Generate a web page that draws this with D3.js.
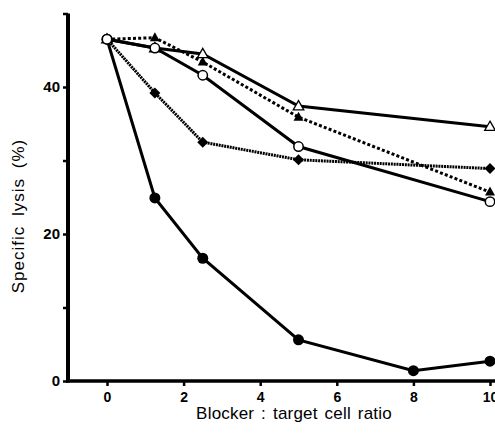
<!doctype html>
<html>
<head>
<meta charset="utf-8">
<script src="https://d3js.org/d3.v7.min.js"></script>
<style>
  body { margin: 0; background: #fff; }
  svg { font-family: "Liberation Sans", Arial, sans-serif; }
</style>
</head>
<body>
<svg width="495" height="435"></svg>
<script>
// values
var ratios = [0, 1.25, 2.5, 5, 10];
var ratiosFilled = [0, 1.25, 2.5, 5, 8, 10];
var openTriangle = [46.5, 45.3, 44.5, 37.4, 34.6];
var filledTriangle = [46.5, 46.7, 43.4, 35.9, 25.7];
var openCircle = [46.5, 45.3, 41.6, 31.9, 24.4];
var filledDiamond = [46.5, 39.2, 32.5, 30.1, 28.9];
var filledCircle = [46.5, 24.9, 16.7, 5.6, 1.4, 2.7];
var xTicks = [0, 2, 4, 6, 8, 10];
var yTicks = [0, 10, 20, 30, 40, 50];
var yLabels = [0, 20, 40];

var svg = d3.select("svg");
var x = d3.scaleLinear().domain([0, 10]).range([107, 490]);
var y = d3.scaleLinear().domain([0, 40]).range([381, 87]);

var series = [
  {xs: ratios, ys: openTriangle, dash: null, width: 3, mark: "triOpen"},
  {xs: ratios, ys: filledTriangle, dash: "3,2.2", width: 3, mark: "tri"},
  {xs: ratios, ys: openCircle, dash: null, width: 3, mark: "circOpen"},
  {xs: ratios, ys: filledDiamond, dash: "2,0.8", width: 3, mark: "diamond"},
  {xs: ratiosFilled, ys: filledCircle, dash: null, width: 3, mark: "circ"}
];

var line = d3.line().x(function(d) { return x(d[0]); }).y(function(d) { return y(d[1]); });

series.forEach(function(s) {
  var pts = s.xs.map(function(v, i) { return [v, s.ys[i]]; });
  svg.append("path")
    .attr("d", line(pts))
    .attr("fill", "none")
    .attr("stroke", "#000")
    .attr("stroke-width", s.width)
    .attr("stroke-dasharray", s.dash);
});

// markers, open ones last so they sit on top
var order = [4, 3, 1, 0, 2];
order.forEach(function(k) {
  var s = series[k];
  var g = svg.append("g");
  s.xs.forEach(function(v, i) {
    var cx = x(v), cy = y(s.ys[i]);
    if (s.mark == "circ") {
      g.append("circle").attr("cx", cx).attr("cy", cy).attr("r", 5.5).attr("fill", "#000");
    } else if (s.mark == "circOpen") {
      g.append("circle").attr("cx", cx).attr("cy", cy).attr("r", 4.7)
        .attr("fill", "#fff").attr("stroke", "#000").attr("stroke-width", 1.5);
    } else if (s.mark == "diamond") {
      g.append("path").attr("d", "M0,-5.5L5.5,0L0,5.5L-5.5,0Z")
        .attr("transform", "translate(" + cx + "," + cy + ")").attr("fill", "#000");
    } else if (s.mark == "tri") {
      g.append("path").attr("d", "M0,-5.5L5,3.5L-5,3.5Z")
        .attr("transform", "translate(" + cx + "," + cy + ")").attr("fill", "#000");
    } else {
      g.append("path").attr("d", "M0,-5.5L5.3,3.7L-5.3,3.7Z")
        .attr("transform", "translate(" + cx + "," + cy + ")")
        .attr("fill", "#fff").attr("stroke", "#000").attr("stroke-width", 1.3);
    }
  });
});

// axes
var yAxis = svg.append("g")
  .attr("transform", "translate(68,0)")
  .call(d3.axisLeft(y).tickValues(yTicks).tickSize(5).tickSizeOuter(0)
    .tickFormat(function(d) { return yLabels.indexOf(d) >= 0 ? d : ""; }));
yAxis.select(".domain").attr("stroke-width", 4).attr("d", "M0," + y(50) + "V" + (y(0) + 1.5));
yAxis.selectAll(".tick line").attr("stroke-width", 2.5);
yAxis.selectAll(".tick text").attr("font-size", 15).attr("font-weight", "bold").attr("fill", "#000")
  .attr("font-family", "Liberation Sans, Arial, sans-serif").attr("x", -8);

var xAxis = svg.append("g")
  .attr("transform", "translate(0,381)")
  .call(d3.axisBottom(x).tickValues(xTicks).tickSize(5).tickSizeOuter(0));
xAxis.select(".domain").attr("stroke-width", 3.5).attr("d", "M66,0H495");
xAxis.selectAll(".tick line").attr("stroke-width", 2.5);
xAxis.selectAll(".tick text").attr("font-size", 14).attr("font-weight", "bold").attr("fill", "#000")
  .attr("font-family", "Liberation Sans, Arial, sans-serif").attr("y", 11);

svg.append("text")
  .attr("transform", "translate(24,216) rotate(-90)")
  .attr("text-anchor", "middle")
  .attr("font-size", 17)
  .attr("letter-spacing", 1)
  .attr("word-spacing", 4)
  .text("Specific lysis (%)");

svg.append("text")
  .attr("x", 294).attr("y", 419)
  .attr("text-anchor", "middle")
  .attr("font-size", 17)
  .attr("letter-spacing", 0.2)
  .attr("word-spacing", 2)
  .text("Blocker : target cell ratio");
</script>
</body>
</html>
